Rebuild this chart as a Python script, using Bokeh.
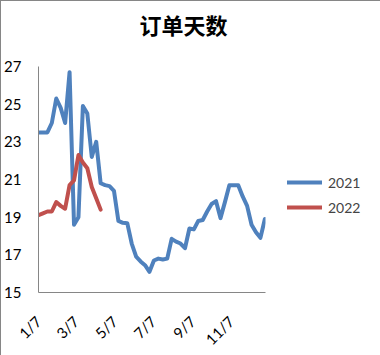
import math
from bokeh.plotting import figure
from bokeh.models import Range1d, FixedTicker, Title, Legend, LegendItem
from bokeh.embed import file_html
from bokeh.resources import INLINE

# weekly points, x = days after Jan 7
days_2021 = [7 * i for i in range(52)]
values_2021 = [23.5, 23.5, 23.5, 24.0, 25.3, 24.8, 24.0, 26.7, 18.6, 19.0,
               24.9, 24.5, 22.2, 23.0, 20.8, 20.7, 20.65, 20.4, 18.8, 18.7,
               18.68, 17.6, 16.9, 16.65, 16.45, 16.1, 16.7, 16.8, 16.75, 16.8,
               17.85, 17.7, 17.6, 17.35, 18.4, 18.35, 18.8, 18.85, 19.3, 19.7,
               19.85, 18.95, 19.8, 20.7, 20.7, 20.7, 20.1, 19.6, 18.6, 18.2,
               17.9, 18.9]
days_2022 = [7 * i for i in range(15)]
values_2022 = [19.1, 19.2, 19.3, 19.3, 19.8, 19.6, 19.45, 20.7, 20.95, 22.3,
               21.9, 21.6, 20.6, 20.0, 19.4]

tick_days = [0, 59, 120, 181, 243, 304]
tick_labels = ["1/7", "3/7", "5/7", "7/7", "9/7", "11/7"]
y_ticks = [15, 17, 19, 21, 23, 25, 27]
series_names = ["2021", "2022"]
title_text = "订单天数"

BLUE = "#4F81BD"
RED = "#C0504D"
AXIS = "#868686"

p = figure(frame_width=227, frame_height=226, output_backend="svg", toolbar_location=None,
           x_range=Range1d(0, 358), y_range=Range1d(15, 27),
           min_border_left=37, min_border_right=106,
           min_border_top=65, min_border_bottom=60)
p.styles = {"border": "1px solid #868686"}
p.outline_line_color = None
p.grid.visible = False
p.background_fill_color = "white"

r1 = p.line(days_2021, values_2021, line_color=BLUE, line_width=4, line_join="round", line_cap="round")
r2 = p.line(days_2022, values_2022, line_color=RED, line_width=4, line_join="round", line_cap="round")

for ax in (p.xaxis, p.yaxis):
    ax.axis_line_color = AXIS
    ax.axis_line_width = 1
    ax.major_tick_line_color = None
    ax.minor_tick_line_color = None
    ax.major_label_text_font = "Lato"
    ax.major_label_text_font_size = "15px"
    ax.major_label_text_color = "black"

p.yaxis.ticker = FixedTicker(ticks=y_ticks)
p.yaxis.major_label_standoff = 11
p.xaxis.ticker = FixedTicker(ticks=tick_days)
p.xaxis.major_label_overrides = {d: t for d, t in zip(tick_days, tick_labels)}
p.xaxis.major_label_orientation = math.pi / 4
p.xaxis.major_label_standoff = 20

legend = Legend(items=[LegendItem(label=series_names[0], renderers=[r1]),
                       LegendItem(label=series_names[1], renderers=[r2])],
                location=(22, 75))
legend.border_line_color = None
legend.background_fill_alpha = 0
legend.padding = 0
legend.margin = 0
legend.glyph_width = 35
legend.glyph_height = 20
legend.label_height = 20
legend.spacing = 5
legend.label_standoff = 6
legend.label_text_font = "Lato"
legend.label_text_font_size = "14px"
p.add_layout(legend, "right")

spacer = Title(text=" ", text_font_size="1px", standoff=23)
p.add_layout(spacer, "above")
title = Title(text=title_text, align="left", offset=101, vertical_align="middle",
              standoff=0, text_font="Noto Sans CJK SC", text_font_style="bold",
              text_font_size="22px", text_color="black")
p.add_layout(title, "above")

open("out.html", "w").write(file_html(p, INLINE))
